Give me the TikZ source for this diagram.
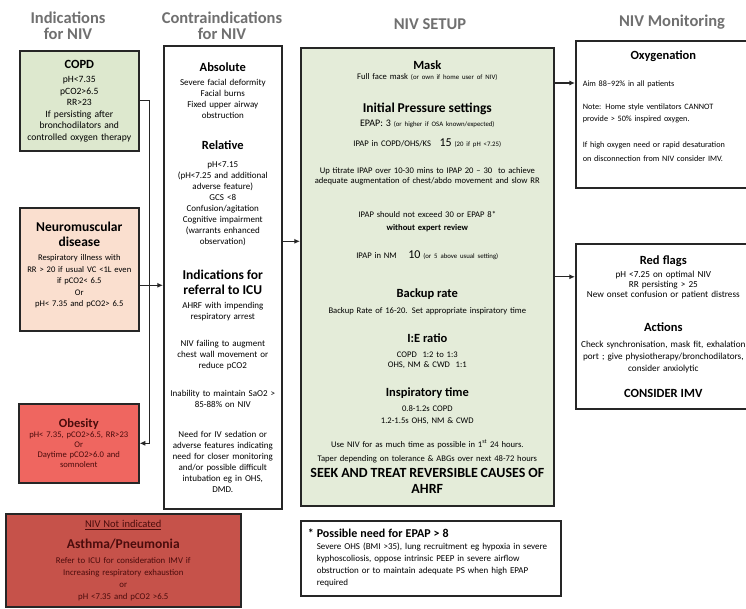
\documentclass[tikz,border=0pt]{standalone}
\usepackage{fontspec}
\setmainfont{Carlito}
\usetikzlibrary{positioning,arrows.meta}
\definecolor{nivline}{RGB}{38,38,38}
\definecolor{nivgray}{RGB}{112,112,112}
\definecolor{copdgreen}{RGB}{221,232,206}
\definecolor{setupgreen}{RGB}{228,236,217}
\definecolor{nmpeach}{RGB}{250,223,207}
\definecolor{obesered}{RGB}{239,102,96}
\definecolor{notred}{RGB}{198,82,74}
\definecolor{redtext}{RGB}{75,12,12}
\newcommand{\boxhead}[1]{{\bfseries\fontsize{12.5}{13}\selectfont #1\par}}
\newcommand{\bighead}[1]{{\bfseries\fontsize{13.5}{15}\selectfont #1\par}}
\newcommand{\note}{\fontsize{8.6}{10}\selectfont}
\newcommand{\aside}[1]{{\fontsize{6.8}{10}\selectfont #1}}

\begin{document}
\begin{tikzpicture}[x=1pt, y=-1pt,
    panel/.style={draw=nivline, line width=1.6pt, anchor=north west, align=center, inner sep=3pt, font=\note},
    colhead/.style={text=nivgray, align=center, font=\bfseries\fontsize{16.5}{15.5}\selectfont},
    arrow/.style={-{Latex[length=2mm,width=1.8mm]}, line width=1.3pt, draw=nivline}
  ]
  \fill[white] (0,0) rectangle (746,608);
  \useasboundingbox (0,0) rectangle (746,608);

  % column heads
  \node[colhead] (indhead) at (68,26) {Indications\\for NIV};
  \node[colhead] (contrahead) at (222,26) {Contraindications\\for NIV};
  \node[colhead] (setuphead) at (430,24) {NIV SETUP};
  \node[colhead] (monhead) at (672,22) {NIV Monitoring};

  % indications
  \node[panel, fill=copdgreen, text width=113pt, minimum height=100pt, font=\fontsize{9.6}{11.5}\selectfont] (copd) at (19,50) {%
    \boxhead{COPD}
    \vspace{3pt}
    pH<7.35\\ pCO2>6.5\\ RR>23\\ If persisting after\\ bronchodilators and\\ controlled oxygen therapy};
  \node[panel, fill=nmpeach, text width=113pt, minimum height=123pt, font=\fontsize{8.6}{11.5}\selectfont] (nmd) at (19,207) {%
    \bighead{Neuromuscular\\ disease}
    \vspace{3pt}
    Respiratory illness with\\ RR > 20 if usual VC <1L even\\ if pCO2< 6.5\\ Or\\ pH< 7.35 and pCO2> 6.5\par
    \vspace{-1pt}\null};
  \node[panel, fill=obesered, text=redtext, text width=114pt, minimum height=79pt] (obese) at (18,403) {%
    \boxhead{Obesity}
    pH< 7.35, pCO2>6.5, RR>23\\ Or\\ Daytime pCO2>6.0 and\\ somnolent};
  \node[panel, fill=notred, text=redtext, text width=229pt, minimum height=93pt, font=\fontsize{8.8}{12}\selectfont] (notind) at (5,513) {%
    {\fontsize{10.5}{12}\selectfont\underline{NIV Not indicated}\par}
    \vspace{6pt}
    \bighead{Asthma/Pneumonia}
    \vspace{3pt}
    Refer to ICU for consideration IMV if\\ Increasing respiratory exhaustion\\ or\\ pH <7.35 and pCO2 >6.5};

  % contraindications
  \node[panel, fill=white, text width=112pt, minimum height=463pt, font=\fontsize{9}{11}\selectfont] (contra) at (163,45) {%
    \boxhead{Absolute}
    \vspace{3pt}
    Severe facial deformity\\ Facial burns\\ Fixed upper airway\\ obstruction\par
    \vspace{18pt}
    \boxhead{Relative}
    \vspace{7pt}
    pH<7.15\\ (pH<7.25 and additional\\ adverse feature)\\ GCS <8\\ Confusion/agitation\\ Cognitive impairment\\ (warrants enhanced\\ observation)\par
    \vspace{20pt}
    \bighead{Indications for\\ referral to ICU}
    \vspace{3pt}
    AHRF with impending\\ respiratory arrest\par
    \vspace{16pt}
    NIV failing to augment\\ chest wall movement or\\ reduce pCO2\par
    \vspace{17pt}
    Inability to maintain SaO2 >\\ 85-88\% on NIV\par
    \vspace{19pt}
    Need for IV sedation or\\ adverse features indicating\\ need for closer monitoring\\ and/or possible difficult\\ intubation eg in OHS,\\ DMD.};

  % setup
  \node[panel, fill=setupgreen, text width=247pt, minimum height=458pt] (setup) at (300,47) {%
    \boxhead{Mask}
    Full face mask \aside{(or own if home user of NIV)}\par
    \vspace{18pt}
    \bighead{Initial Pressure settings}
    \vspace{4pt}
    {\fontsize{10}{10}\selectfont EPAP: 3} \aside{(or higher if OSA known/expected)}\par
    \vspace{10pt}
    IPAP in COPD/OHS/KS\quad{\fontsize{12}{10}\selectfont 15} \aside{(20 if pH <7.25)}\par
    \vspace{17pt}
    Up titrate IPAP over 10-30 mins to IPAP 20 -- 30\ \ to achieve\\
    adequate augmentation of chest/abdo movement and slow RR\par
    \vspace{24pt}
    IPAP should not exceed 30 or EPAP 8*\\[3pt]
    {\bfseries without expert review}\par
    \vspace{18pt}
    IPAP in NM\quad\ {\fontsize{12}{10}\selectfont 10} \aside{(or 5 above usual setting)}\par
    \vspace{26pt}
    \boxhead{Backup rate}
    \vspace{6pt}
    Backup Rate of 16-20. Set appropriate inspiratory time\par
    \vspace{16pt}
    \boxhead{I:E ratio}
    \vspace{5pt}
    COPD\ \ 1:2 to 1:3\\ OHS, NM \& CWD\ \ 1:1\par
    \vspace{16pt}
    \boxhead{Inspiratory time}
    \vspace{5pt}
    0.8-1.2s COPD\\[2pt] 1.2-1.5s OHS, NM \& CWD\par
    \vspace{14pt}
    Use NIV for as much time as possible in 1\textsuperscript{st} 24 hours.\\[4pt]
    Taper depending on tolerance \& ABGs over next 48-72 hours\par
    {\bfseries\fontsize{14}{16}\selectfont SEEK AND TREAT REVERSIBLE CAUSES OF\\ AHRF\par}};
  \node[panel, fill=white, align=left, inner xsep=7pt, text width=246pt, minimum height=75pt, font=\fontsize{9}{12}\selectfont] (epap) at (300,520) {%
    {\bfseries\fontsize{12}{13}\selectfont * Possible need for EPAP > 8\par}
    {\leftskip=9pt Severe OHS (BMI >35), lung recruitment eg hypoxia in severe\\ kyphoscoliosis, oppose intrinsic PEEP in severe airflow\\ obstruction or to maintain adequate PS when high EPAP\\ required\par}};

  % monitoring
  \node[panel, fill=white, align=left, inner xsep=7pt, text width=161pt, minimum height=147pt, font=\fontsize{8.2}{12}\selectfont] (oxy) at (575,40) {%
    {\centering\boxhead{Oxygenation}}
    \vspace{15pt}
    Aim 88--92\% in all patients\par
    \vspace{11pt}
    Note: Home style ventilators CANNOT\\ provide > 50\% inspired oxygen.\par
    \vspace{14pt}
    If high oxygen need or rapid desaturation\\[2pt] on disconnection from NIV consider IMV.\par
    \vspace{4pt}\null};
  \node[panel, fill=white, text width=168pt, inner xsep=3.5pt, minimum height=165pt, font=\fontsize{9.2}{10}\selectfont] (flags) at (575,243) {%
    \boxhead{Red flags}
    \vspace{3pt}
    pH <7.25 on optimal NIV\\ RR persisting > 25\\ New onset confusion or patient distress\par
    \vspace{21pt}
    \boxhead{Actions}
    \vspace{6pt}
    Check synchronisation, mask fit, exhalation\\[2pt] port ; give physiotherapy/bronchodilators,\\[2pt] consider anxiolytic\par
    \vspace{13pt}
    \boxhead{CONSIDER IMV}};

  % connectors
  \coordinate (spine) at ([xshift=10pt]copd.east);
  \coordinate (nmout) at ([yshift=-16pt]nmd.east);
  \coordinate (contraout) at ([yshift=36pt]contra.east);
  \coordinate (oxyin) at ([yshift=-43pt]oxy.north west);
  \draw[arrow] (copd.east) -- (spine) |- (obese.east);
  \draw[arrow] (nmout) -- (nmout -| contra.west);
  \draw[arrow] (contraout) -- (contraout -| setup.west);
  \draw[arrow] (oxyin -| setup.east) -- (oxyin);
  \draw[arrow] (setup.east) -- (setup.east -| flags.west);
\end{tikzpicture}
\end{document}
